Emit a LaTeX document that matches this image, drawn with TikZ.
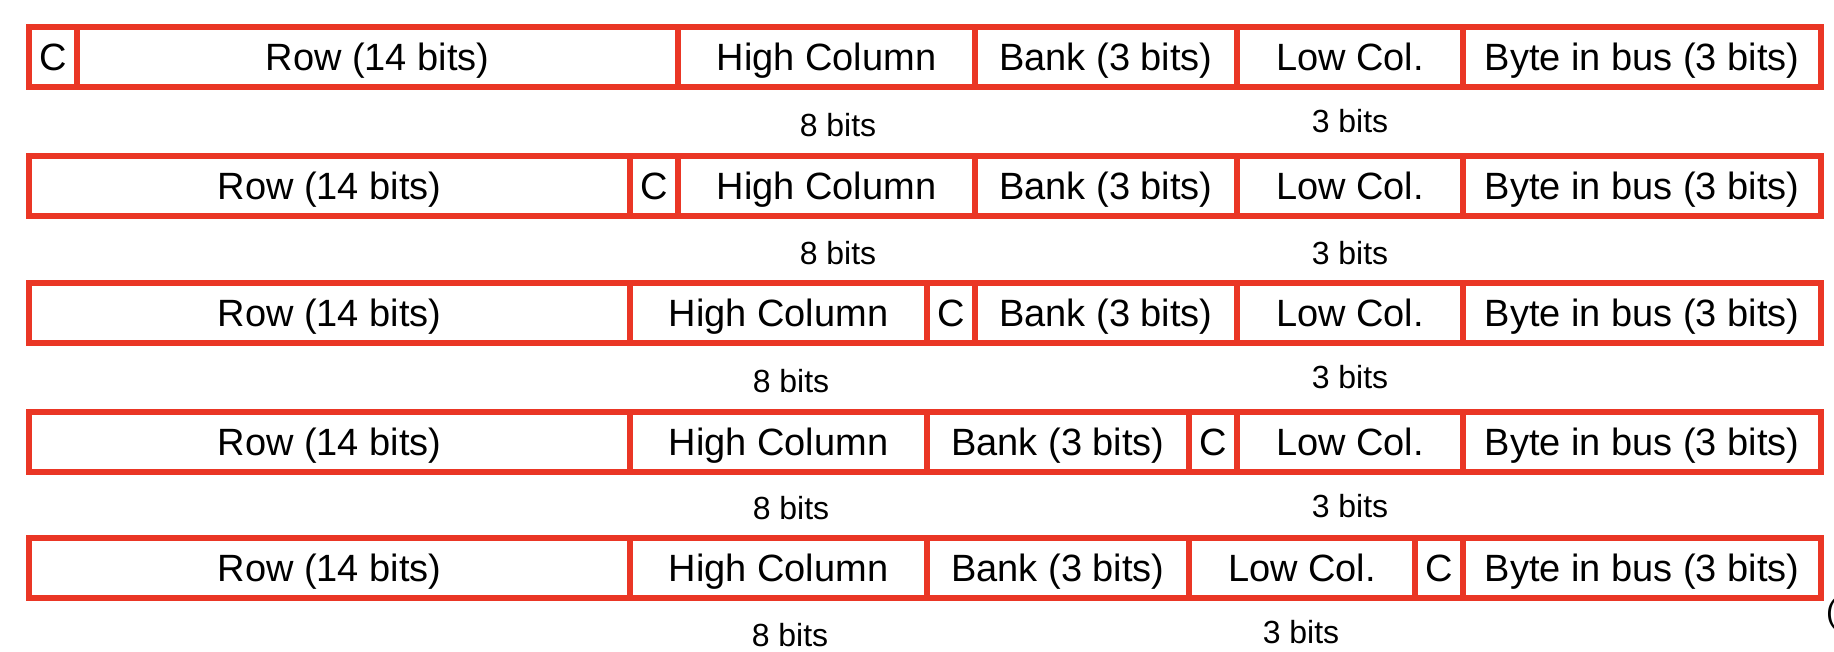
\documentclass[tikz,border=0pt]{standalone}
\usepackage{fontspec}
\setmainfont{Liberation Sans}
\definecolor{boxred}{RGB}{234,54,37}
\newcommand\mkcell[6]{\node[cellbox, minimum width={#3-#2}] (#1) at ({(#2+#3)/2}, #4) {#5#6};}
\begin{document}
\begin{tikzpicture}[x=1pt, y=-1pt,
  cellbox/.style={draw=boxred, line width=5.5pt, rectangle, inner sep=0pt, outer sep=0pt,
    minimum height=60pt, font=\fontsize{38}{40}\selectfont, text height=27.3pt, text depth=0pt},
  bitlabel/.style={inner sep=0pt, font=\fontsize{32}{34}\selectfont, text height=22.9pt, text depth=0pt}]
\useasboundingbox (0,0) rectangle (1834,652);
% Row 1
\mkcell{r1c}{29}{77}{57}{C}{}
\mkcell{r1row}{77}{678}{57}{Row (14 bits)}{}
\mkcell{r1hc}{678}{975}{57}{High Column}{}
\mkcell{r1bank}{975}{1237}{57}{Bank (3 bits)}{}
\mkcell{r1low}{1237}{1463}{57}{Low Col.}{}
\mkcell{r1byte}{1463}{1821}{57}{Byte in bus (3 bits)}{}
\node[bitlabel] (r1eight) at (838,125) {8 bits};
\node[bitlabel] (r1three) at (1350,121.5) {3 bits};
% Row 2
\mkcell{r2row}{29}{630}{186}{Row (14 bits)}{}
\mkcell{r2c}{630}{678}{186}{C}{}
\mkcell{r2hc}{678}{975}{186}{High Column}{}
\mkcell{r2bank}{975}{1237}{186}{Bank (3 bits)}{}
\mkcell{r2low}{1237}{1463}{186}{Low Col.}{}
\mkcell{r2byte}{1463}{1821}{186}{Byte in bus (3 bits)}{}
\node[bitlabel] (r2eight) at (838,253) {8 bits};
\node[bitlabel] (r2three) at (1350,253.5) {3 bits};
% Row 3
\mkcell{r3row}{29}{630}{313}{Row (14 bits)}{}
\mkcell{r3hc}{630}{927}{313}{High Column}{}
\mkcell{r3c}{927}{975}{313}{C}{}
\mkcell{r3bank}{975}{1237}{313}{Bank (3 bits)}{}
\mkcell{r3low}{1237}{1463}{313}{Low Col.}{}
\mkcell{r3byte}{1463}{1821}{313}{Byte in bus (3 bits)}{}
\node[bitlabel] (r3eight) at (791,381) {8 bits};
\node[bitlabel] (r3three) at (1350,377.5) {3 bits};
% Row 4
\mkcell{r4row}{29}{630}{442}{Row (14 bits)}{}
\mkcell{r4hc}{630}{927}{442}{High Column}{}
\mkcell{r4bank}{927}{1189}{442}{Bank (3 bits)}{}
\mkcell{r4c}{1189}{1237}{442}{C}{}
\mkcell{r4low}{1237}{1463}{442}{Low Col.}{}
\mkcell{r4byte}{1463}{1821}{442}{Byte in bus (3 bits)}{}
\node[bitlabel] (r4eight) at (791,508) {8 bits};
\node[bitlabel] (r4three) at (1350,506.5) {3 bits};
% Row 5
\mkcell{r5row}{29}{630}{568}{Row (14 bits)}{}
\mkcell{r5hc}{630}{927}{568}{High Column}{}
\mkcell{r5bank}{927}{1189}{568}{Bank (3 bits)}{}
\mkcell{r5low}{1189}{1415}{568}{Low Col.}{}
\mkcell{r5c}{1415}{1463}{568}{C}{}
\mkcell{r5byte}{1463}{1821}{568}{Byte in bus (3 bits)}{}
\node[bitlabel] (r5eight) at (790,635) {8 bits};
\node[bitlabel] (r5three) at (1301,632.5) {3 bits};
% cut-off text at the right edge
\node[anchor=base west, inner sep=0pt, font=\fontsize{32}{34}\selectfont] (cut) at (1826,622) {(};
\end{tikzpicture}
\end{document}
